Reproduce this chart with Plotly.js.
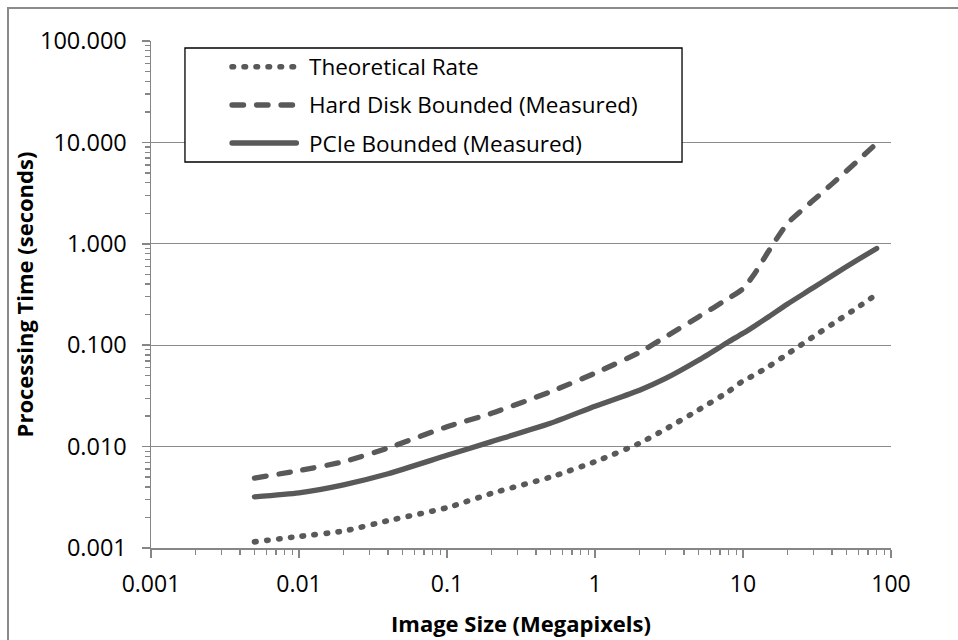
<!DOCTYPE html>
<html><head><meta charset="utf-8">
<script src="https://cdn.plot.ly/plotly-3.0.1.min.js"></script>
<style>
html,body{margin:0;padding:0;background:#fff;overflow:hidden;}
#chart{width:958px;height:640px;}
#frame{position:absolute;left:7px;top:7px;width:2000px;height:2000px;border-left:2px solid #8a8a8a;border-top:2px solid #8a8a8a;pointer-events:none;}
.scatterlayer .js-line{stroke-linecap:round !important;stroke-linejoin:round !important;}
.shapelayer path{stroke-linecap:round !important;}
</style></head><body>
<div id="chart"></div><div id="frame"></div>
<script>
// Image size in megapixels
const imageSizeMP = [0.005, 0.01, 0.02, 0.04, 0.1, 0.2, 0.5, 1, 2, 3, 5, 8, 10, 12, 15, 20, 30, 40, 60, 80];
// Processing time (seconds)
const theoreticalRate = [0.00115, 0.0013, 0.00147, 0.00186, 0.0025, 0.00346, 0.0050, 0.0071, 0.0108, 0.0149, 0.023, 0.035, 0.0445, 0.051, 0.062, 0.082, 0.122, 0.161, 0.238, 0.318];
const hardDiskBounded = [0.0049, 0.0058, 0.0071, 0.0097, 0.0157, 0.0213, 0.0347, 0.053, 0.085, 0.121, 0.19, 0.29, 0.36, 0.51, 0.86, 1.59, 2.7, 3.9, 6.65, 9.8];
const pcieBounded = [0.0032, 0.0035, 0.0042, 0.0054, 0.0082, 0.0112, 0.0170, 0.025, 0.036, 0.047, 0.071, 0.108, 0.131, 0.155, 0.192, 0.255, 0.37, 0.485, 0.70, 0.90];
const seriesNames = ["Theoretical Rate", "Hard Disk Bounded (Measured)", "PCIe Bounded (Measured)"];
const xTickVals = [0.001, 0.01, 0.1, 1, 10, 100];
const xTickText = ["0.001", "0.01", "0.1", "1", "10", "100"];
const yTickVals = [0.001, 0.01, 0.1, 1, 10, 100];
const yTickText = ["0.001", "0.010", "0.100", "1.000", "10.000", "100.000"];
const xTitle = "Image Size (Megapixels)";
const yTitle = "Processing Time (seconds)";

const lineColor = "#595959";
const dotDash = "1.5px,10.5px";
const dashDash = "11.5px,13px";
const dashes = [dotDash, dashDash, "solid"];
const widths = [5.6, 5.3, 5.3];
const seriesValues = [theoreticalRate, hardDiskBounded, pcieBounded];

const minorVals = [];
for (let d = 0; d < xTickVals.length - 1; d++) {
  for (let k = 2; k <= 9; k++) minorVals.push(xTickVals[d] * k);
}

const traces = seriesValues.map((vals, i) => ({
  type: "scatter", mode: "lines", name: seriesNames[i],
  x: imageSizeMP, y: vals,
  line: {color: lineColor, width: widths[i], dash: dashes[i], shape: "spline", smoothing: 0.6},
  showlegend: false, hoverinfo: "skip"
}));

// custom legend (box, samples, labels) in paper coordinates
const legRows = [0.9493, 0.8738, 0.7988];
const shapes = [{
  type: "rect", xref: "paper", yref: "paper", x0: 0.0459, x1: 0.7176, y0: 0.7613, y1: 0.9862,
  line: {color: "#000", width: 1.3}, fillcolor: "#fff", layer: "above"
}];
const annotations = [];
seriesNames.forEach((n, i) => {
  shapes.push({type: "line", xref: "paper", yref: "paper", x0: 0.1095, x1: 0.1965, y0: legRows[i], y1: legRows[i],
    line: {color: lineColor, width: widths[i], dash: dashes[i]}, layer: "above"});
  annotations.push({xref: "paper", yref: "paper", x: 0.2108, y: legRows[i], xanchor: "left", yanchor: "middle",
    text: n, showarrow: false, font: {size: 22.5, color: "#000"}});
});

const axisGray = "#868686";
const layout = {
  width: 958, height: 640,
  margin: {l: 151, r: 67, t: 41, b: 92},
  paper_bgcolor: "#fff", plot_bgcolor: "#fff",
  font: {family: "Open Sans, sans-serif", color: "#000", size: 23},
  showlegend: false,
  xaxis: {
    type: "log", range: [-3, 2], tickmode: "array", tickvals: xTickVals, ticktext: xTickText,
    showgrid: false, zeroline: false, showline: true, linecolor: axisGray, linewidth: 1.5,
    ticks: "outside", ticklen: 8, tickwidth: 1.5, tickcolor: axisGray, ticklabelstandoff: 7,
    tickfont: {size: 23},
    minor: {tickmode: "array", tickvals: minorVals, ticks: "outside", ticklen: 5, tickwidth: 1.3, tickcolor: axisGray, showgrid: false},
    title: {text: "<b>" + xTitle + "</b>", font: {size: 22}, standoff: 18}
  },
  yaxis: {
    type: "log", range: [-3, 2], tickmode: "array", tickvals: yTickVals, ticktext: yTickText,
    showgrid: true, gridcolor: "#8c8c8c", gridwidth: 1.3, zeroline: false,
    showline: true, linecolor: axisGray, linewidth: 1.5,
    ticks: "outside", ticklen: 8, tickwidth: 1.5, tickcolor: axisGray, ticklabelstandoff: 10,
    tickfont: {size: 23.5},
    minor: {tickmode: "array", tickvals: minorVals, ticks: "outside", ticklen: 5, tickwidth: 1.3, tickcolor: axisGray, showgrid: false},
    title: {text: "<b>" + yTitle + "</b>", font: {size: 22}, standoff: 0}
  },
  shapes: shapes,
  annotations: annotations
};

Plotly.newPlot("chart", traces, layout, {displayModeBar: false, staticPlot: true});
</script>
</body></html>
